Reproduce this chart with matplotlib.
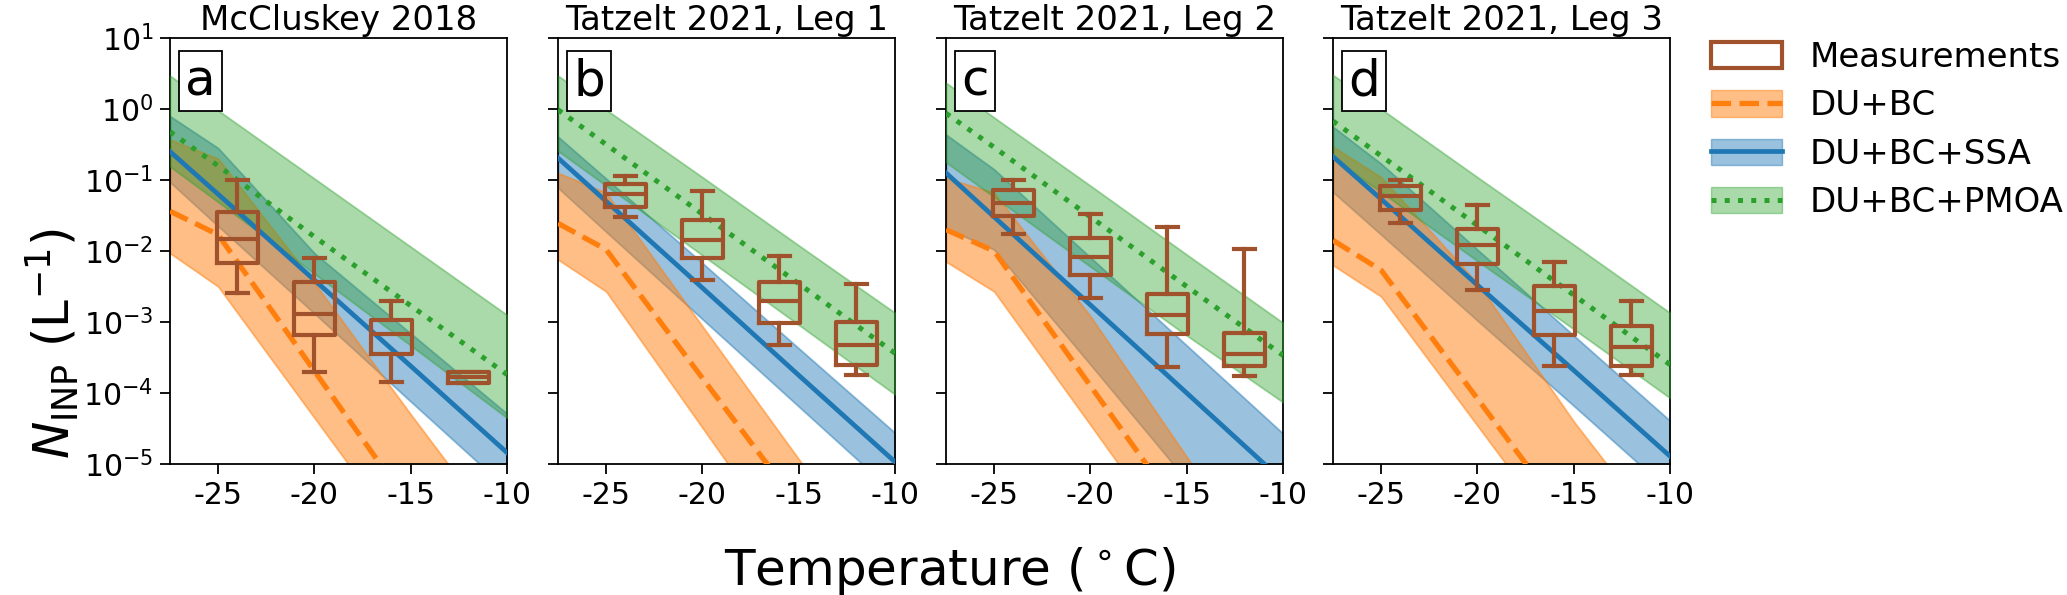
import matplotlib
matplotlib.use("Agg")
import matplotlib.pyplot as plt
import numpy as np
from matplotlib.patches import Patch
from matplotlib.lines import Line2D

# ---------------- data ----------------
titles = ["McCluskey 2018", "Tatzelt 2021, Leg 1", "Tatzelt 2021, Leg 2", "Tatzelt 2021, Leg 3"]
letters = ["a", "b", "c", "d"]
xtick_vals = [-25, -20, -15, -10]
xtick_labels = ["-25", "-20", "-15", "-10"]

# model temperature grid (deg C); model values given as log10(N_INP / L^-1)
t_model = [-27.5, -25, -20, -15, -10]

du_med_log10 = [[-1.44, -1.77, -3.69, -5.61, -7.54],
                [-1.61, -1.98, -3.79, -5.59, -7.40],
                [-1.70, -2.00, -3.90, -5.80, -7.70],
                [-1.85, -2.27, -4.08, -5.90, -7.71]]
du_lo_log10 = [[-2.03, -2.50, -4.35, -6.20, -8.05],
               [-2.12, -2.57, -4.49, -6.41, -8.33],
               [-2.15, -2.57, -4.45, -6.34, -8.22],
               [-2.20, -2.64, -4.46, -6.28, -8.10]]
du_hi_log10 = [[-0.43, -0.70, -2.45, -4.30, -6.10],
               [-0.90, -1.18, -3.06, -4.93, -6.81],
               [-0.97, -1.18, -2.92, -4.90, -6.88],
               [-0.53, -0.96, -2.45, -4.40, -6.15]]

ssa_med_log10 = [[-0.60, -1.20, -2.41, -3.62, -4.84],
                 [-0.69, -1.30, -2.52, -3.75, -4.97],
                 [-0.90, -1.52, -2.76, -4.00, -5.24],
                 [-0.67, -1.27, -2.48, -3.68, -4.89]]
ssa_lo_log10 = [[-1.03, -1.65, -2.88, -4.12, -5.35],
                [-1.11, -1.73, -2.96, -4.19, -5.42],
                [-1.68, -1.98, -3.60, -5.23, -6.85],
                [-1.17, -1.77, -2.98, -4.18, -5.39]]
ssa_hi_log10 = [[-0.10, -0.55, -2.03, -3.16, -4.29],
                [-0.39, -0.98, -2.17, -3.37, -4.56],
                [-0.36, -0.85, -2.09, -3.33, -4.57],
                [-0.25, -0.77, -1.98, -3.19, -4.39]]

pmoa_med_log10 = [[-0.32, -0.80, -1.80, -2.77, -3.74],
                  [-0.01, -0.50, -1.48, -2.46, -3.44],
                  [-0.06, -0.54, -1.52, -2.50, -3.47],
                  [-0.17, -0.66, -1.64, -2.62, -3.60]]
pmoa_lo_log10 = [[-0.81, -1.31, -2.32, -3.33, -4.35],
                 [-0.59, -1.08, -2.06, -3.04, -4.02],
                 [-0.75, -1.24, -2.22, -3.19, -4.13],
                 [-0.69, -1.17, -2.14, -3.10, -4.07]]
pmoa_hi_log10 = [[0.47, -0.02, -0.98, -1.94, -2.90],
                 [0.47, -0.01, -0.96, -1.92, -2.87],
                 [0.37, -0.12, -1.08, -2.05, -3.01],
                 [0.48, 0.00, -0.96, -1.91, -2.87]]

# measurements (box statistics, N_INP in L^-1)
t_meas = [-24, -20, -16, -12]
meas_whishi = [[0.10, 0.0079, 0.0020, 2.0e-4],
               [0.113, 0.069, 0.0086, 0.0034],
               [0.101, 0.0336, 0.0215, 0.0108],
               [0.101, 0.045, 0.0071, 0.00195]]
meas_q3 = [[0.035, 0.0037, 0.00108, 2.0e-4],
           [0.089, 0.027, 0.0037, 9.9e-4],
           [0.073, 0.0152, 0.00248, 7.1e-4],
           [0.081, 0.0204, 0.00318, 8.7e-4]]
meas_med = [[0.0148, 0.0013, 6.8e-4, 1.68e-4],
            [0.064, 0.0141, 0.0020, 4.7e-4],
            [0.048, 0.0081, 0.00127, 3.6e-4],
            [0.059, 0.0123, 0.00144, 4.5e-4]]
meas_q1 = [[0.0068, 6.6e-4, 3.6e-4, 1.38e-4],
           [0.042, 0.0080, 9.7e-4, 2.45e-4],
           [0.031, 0.0046, 6.8e-4, 2.4e-4],
           [0.038, 0.0066, 6.6e-4, 2.4e-4]]
meas_whislo = [[0.0026, 2.0e-4, 1.43e-4, 1.38e-4],
               [0.030, 0.0039, 4.7e-4, 1.8e-4],
               [0.0175, 0.0022, 2.3e-4, 1.75e-4],
               [0.0248, 0.00285, 2.4e-4, 1.8e-4]]

legend_labels = ["Measurements", "DU+BC", "DU+BC+SSA", "DU+BC+PMOA"]

# ---------------- style ----------------
C_DU = "#ff7f0e"
C_SSA = "#1f77b4"
C_PMOA = "#2ca02c"
C_BOX = "#a0522d"
A_DU, A_SSA, A_PMOA = 0.5, 0.45, 0.4
LW_DU, LW_SSA, LW_PMOA, LW_BOX = 3.8, 3.4, 3.6, 3.0

W, H = 2067, 595
fig = plt.figure(figsize=(W / 100, H / 100), dpi=100)

lefts = [170, 558, 946, 1333]
ax_w, ax_bot, ax_h = 337, 131, 426

TICK_FS = 21.5
TITLE_FS = 24.5


def p(a):
    return 10.0 ** np.array(a)


for i in range(4):
    ax = fig.add_axes([lefts[i] / W, ax_bot / H, ax_w / W, ax_h / H])
    t = np.array(t_model)
    ax.fill_between(t, p(ssa_lo_log10[i]), p(ssa_hi_log10[i]), color=C_SSA, alpha=A_SSA, lw=1.3, zorder=1)
    ax.fill_between(t, p(du_lo_log10[i]), p(du_hi_log10[i]), color=C_DU, alpha=A_DU, lw=1.3, zorder=2)
    ax.fill_between(t, p(pmoa_lo_log10[i]), p(pmoa_hi_log10[i]), color=C_PMOA, alpha=A_PMOA, lw=1.3, zorder=3)
    ax.plot(t, p(du_med_log10[i]), color=C_DU, ls="--", lw=LW_DU, zorder=4)
    ax.plot(t, p(ssa_med_log10[i]), color=C_SSA, ls="-", lw=LW_SSA, zorder=4)
    ax.plot(t, p(pmoa_med_log10[i]), color=C_PMOA, ls=":", lw=LW_PMOA, zorder=4)

    stats = []
    for j in range(len(t_meas)):
        stats.append(dict(med=meas_med[i][j], q1=meas_q1[i][j], q3=meas_q3[i][j],
                          whislo=meas_whislo[i][j], whishi=meas_whishi[i][j], fliers=[]))
    lp = dict(color=C_BOX, lw=LW_BOX)
    ax.bxp(stats, positions=t_meas, widths=2.1, showfliers=False, manage_ticks=False,
           boxprops=lp, medianprops=lp, whiskerprops=lp, capprops=lp, zorder=5)

    ax.set_yscale("log")
    ax.set_ylim(1e-5, 10)
    ax.set_xlim(-27.5, -10)
    ax.set_xticks(xtick_vals)
    ax.set_xticklabels(xtick_labels)
    ax.set_yticks([1e-5, 1e-4, 1e-3, 1e-2, 1e-1, 1e0, 1e1])
    ax.yaxis.set_minor_locator(matplotlib.ticker.NullLocator())
    if i > 0:
        ax.set_yticklabels([])
    ax.tick_params(labelsize=TICK_FS, length=7, width=1.3, pad=5)
    for s in ax.spines.values():
        s.set_linewidth(1.3)
    ax.set_title(titles[i], fontsize=TITLE_FS, pad=6)
    ax.text(0.045, 0.955, letters[i], transform=ax.transAxes, fontsize=36,
            ha="left", va="top", zorder=10,
            bbox=dict(boxstyle="square,pad=0.12", fc="white", ec="black", lw=1.3))

fig.text(950 / W, 10 / H, "Temperature ($^\\circ$C)", fontsize=36, ha="center", va="baseline")
fig.text(52 / W, 251 / H, "$N_{\\rm INP}$ (L$^{-1}$)", fontsize=36, rotation=90,
         ha="center", va="center")

handles = [
    Patch(facecolor="none", edgecolor=C_BOX, lw=LW_BOX),
    (Patch(facecolor=C_DU, edgecolor=C_DU, alpha=A_DU), Line2D([], [], color=C_DU, ls="--", lw=LW_DU)),
    (Patch(facecolor=C_SSA, edgecolor=C_SSA, alpha=A_SSA), Line2D([], [], color=C_SSA, ls="-", lw=LW_SSA)),
    (Patch(facecolor=C_PMOA, edgecolor=C_PMOA, alpha=A_PMOA), Line2D([], [], color=C_PMOA, ls=":", lw=LW_PMOA)),
]
fig.legend(handles, legend_labels, loc="upper left", bbox_to_anchor=(1711 / W, 1 - 41 / H),
           frameon=False, fontsize=TITLE_FS, borderpad=0, handlelength=2.1, handleheight=0.8,
           labelspacing=0.45, handletextpad=0.8, borderaxespad=0)

fig.savefig("out.png", dpi=100)
